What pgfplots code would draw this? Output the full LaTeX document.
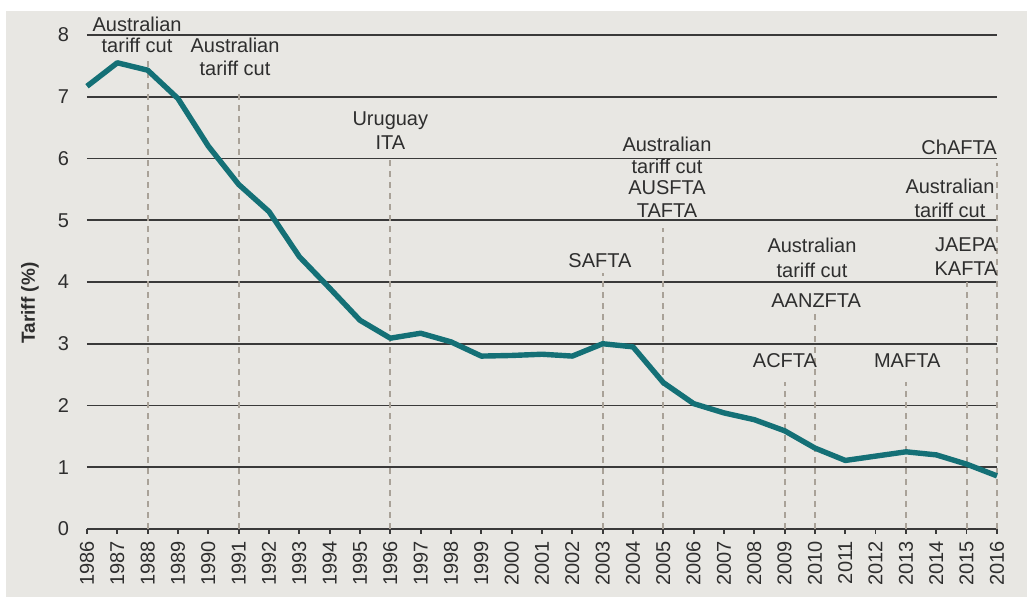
\documentclass[border=0pt]{standalone}
\usepackage{fontspec}
\setmainfont{Liberation Sans}
\usepackage{pgfplots}
\pgfplotsset{compat=1.18}
\definecolor{bg}{HTML}{E8E7E3}
\definecolor{teal}{RGB}{20,112,118}
\definecolor{gridc}{HTML}{3A3A3A}
\definecolor{dashc}{HTML}{A9A298}
\definecolor{txt}{HTML}{2E2E2E}
\pgfplotstableread{
year tariff
1986 7.17
1987 7.55
1988 7.43
1989 6.97
1990 6.20
1991 5.58
1992 5.14
1993 4.41
1994 3.90
1995 3.38
1996 3.09
1997 3.17
1998 3.03
1999 2.80
2000 2.81
2001 2.83
2002 2.80
2003 3.00
2004 2.95
2005 2.37
2006 2.03
2007 1.88
2008 1.77
2009 1.59
2010 1.31
2011 1.11
2012 1.18
2013 1.25
2014 1.20
2015 1.05
2016 0.86
}\tariffdata
\pgfplotstableread{
year top
1988 7.58
1991 7.06
1996 5.98
2003 4.15
2005 4.87
2009 2.38
2010 3.51
2013 2.38
2015 4.00
2016 5.93
}\eventdata
\begin{document}
\begin{tikzpicture}
\path[use as bounding box] (-43.5pt,-34pt) rectangle (470pt,264.5pt);
\fill[bg] (-40.5pt,-34pt) rectangle (470pt,259pt);
\begin{axis}[
  at={(0pt,0pt)}, anchor=south west,
  scale only axis, width=455pt, height=247pt,
  xmin=1986, xmax=2016, ymin=0, ymax=8,
  clip=false,
  axis x line*=bottom, axis y line*=left,
  y axis line style={draw=none},
  x axis line style={draw=gridc, line width=1pt, -},
  xtick={1986,...,2016}, ytick={0,...,8},
  /pgf/number format/set thousands separator={},
  /pgf/number format/assume math mode=true,
  ymajorgrids,
  major grid style={draw=gridc, line width=0.9pt},
  ytick style={draw=none},
  xtick style={draw=gridc, line width=0.9pt},
  tick align=outside, major tick length=2.5pt,
  x tick label style={rotate=90, anchor=east, font=\fontsize{10}{10}\selectfont, text=txt},
  y tick label style={anchor=east, font=\fontsize{10}{10}\selectfont, text=txt, xshift=-3pt},
]
\addplot[ycomb, draw=dashc, line width=1pt, dash pattern=on 3pt off 2.5pt, no marks] table[x=year,y=top] {\eventdata};
\addplot[teal, line width=2.7pt, no marks, line join=round] table[x=year,y=tariff] {\tariffdata};
\begin{scope}[every node/.style={anchor=base, font=\fontsize{10}{10}\selectfont, text=txt, inner sep=0pt}]
\node at (axis cs:1987.65,8.05) {Australian};
\node at (axis cs:1987.65,7.71) {tariff cut};
\node at (axis cs:1990.88,7.71) {Australian};
\node at (axis cs:1990.88,7.35) {tariff cut};
\node at (axis cs:1996.0,6.53) {Uruguay};
\node at (axis cs:1996.0,6.15) {ITA};
\node at (axis cs:2005.12,6.12) {Australian};
\node at (axis cs:2005.12,5.75) {tariff cut};
\node at (axis cs:2005.12,5.41) {AUSFTA};
\node at (axis cs:2005.12,5.04) {TAFTA};
\node at (axis cs:2002.91,4.23) {SAFTA};
\node at (axis cs:2009.9,4.47) {Australian};
\node at (axis cs:2009.9,4.08) {tariff cut};
\node at (axis cs:2010.04,3.58) {AANZFTA};
\node at (axis cs:2009.01,2.62) {ACFTA};
\node at (axis cs:2013.04,2.62) {MAFTA};
\node at (axis cs:2014.98,4.49) {JAEPA};
\node at (axis cs:2014.98,4.11) {KAFTA};
\node at (axis cs:2014.45,5.44) {Australian};
\node at (axis cs:2014.45,5.05) {tariff cut};
\node at (axis cs:2014.75,6.06) {ChAFTA};
\end{scope}
\node[rotate=90, font=\fontsize{9.5}{9.5}\bfseries, text=txt, inner sep=0pt] at ([xshift=-28.5pt]axis cs:1986,3.66) {Tariff (\%)};
\end{axis}
\end{tikzpicture}
\end{document}
